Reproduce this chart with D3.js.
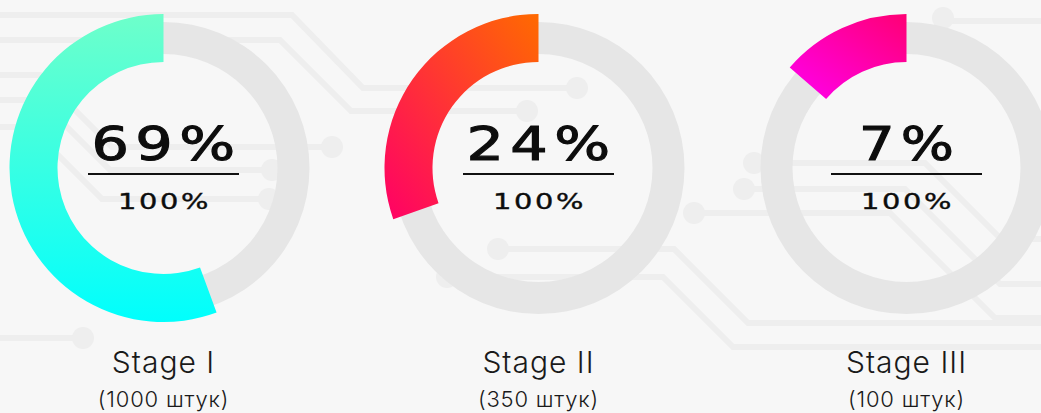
<!DOCTYPE html>
<html lang="ru">
<head>
    <meta charset="UTF-8">
    <title>Stages</title>
    <script src="https://d3js.org/d3.v7.min.js"></script>
    <style>
        html, body {
            margin: 0;
            padding: 0;
            background: #f7f7f7;
            overflow: hidden;
        }
        .big-value {
            font-family: "DejaVu Sans", sans-serif;
            font-size: 46px;
            letter-spacing: 5px;
            fill: #0d0d0d;
            stroke: #0d0d0d;
            stroke-width: 1.1px;
        }
        .total-value {
            font-family: "DejaVu Sans", sans-serif;
            font-size: 22px;
            letter-spacing: 2px;
            fill: #0d0d0d;
            stroke: #0d0d0d;
            stroke-width: 0.4px;
        }
        .stage-name {
            font-family: Inter, "Open Sans", sans-serif;
            font-weight: 300;
            font-size: 30px;
            letter-spacing: 1px;
            fill: #1a1a1a;
        }
        .stage-count {
            font-family: Inter, "Open Sans", sans-serif;
            font-weight: 300;
            font-size: 22px;
            letter-spacing: 0.8px;
            fill: #1a1a1a;
        }
    </style>
</head>
<body>
<div id="chart"></div>
<script>
    // chart data
    const stages = ["Stage I", "Stage II", "Stage III"];
    const counts = [1000, 350, 100];
    const shares = [69, 24, 7];
    const arcFractions = [0.556, 0.304, 0.137];   // filled part of each ring
    const totalLabel = "100%";

    // colours: [start, end] of each ring's gradient
    const palette = [
        ["#6effca", "#00fffd"],
        ["#ff6a00", "#ff0066"],
        ["#ff0074", "#ff00ee"]
    ];

    const width = 1041, height = 413;

    const svg = d3.select("#chart")
        .append("svg")
        .attr("width", width)
        .attr("height", height);

    svg.append("rect")
        .attr("width", width)
        .attr("height", height)
        .attr("fill", "#f7f7f7");

    // faint circuit board decoration behind the rings
    const traces = [
        {pts: [[0, 15], [292, 15], [363, 88], [577, 88]], dot: [577, 88]},
        {pts: [[0, 40], [280, 40], [351, 111], [527, 111]], dot: [527, 111]},
        {pts: [[0, 75], [40, 75], [112, 147], [332, 147]], dot: [332, 147]},
        {pts: [[0, 100], [40, 100], [110, 170], [272, 170]], dot: [272, 170]},
        {pts: [[0, 127], [30, 127], [102, 199], [269, 199]], dot: [269, 199]},
        {pts: [[0, 338], [83, 338]], dot: [83, 338]},
        {pts: [[498, 249], [674, 249], [748, 323], [1041, 323]], dot: [498, 249]},
        {pts: [[447, 277], [663, 277], [733, 347], [1041, 347]], dot: [447, 277]},
        {pts: [[943, 21], [1041, 21]], dot: [943, 18]},
        {pts: [[754, 163], [925, 163], [1001, 239], [1041, 239]], dot: [754, 163]},
        {pts: [[744, 189], [905, 189], [1000, 284], [1041, 284]], dot: [744, 189]},
        {pts: [[694, 213], [890, 213], [995, 318], [1041, 318]], dot: [694, 213]}
    ];

    const deco = svg.append("g").attr("class", "circuit");
    deco.selectAll("path")
        .data(traces)
        .enter()
        .append("path")
        .attr("d", d => d3.line()(d.pts))
        .attr("fill", "none")
        .attr("stroke", "#eeeeee")
        .attr("stroke-width", 6);
    deco.selectAll("circle")
        .data(traces)
        .enter()
        .append("circle")
        .attr("cx", d => d.dot[0])
        .attr("cy", d => d.dot[1])
        .attr("r", 11)
        .attr("fill", "#eeeeee");

    // layout
    const cx = d3.scaleOrdinal().domain(stages).range([163.5, 538.5, 906.5]);
    const cy = 168;
    const angle = d3.scaleLinear().domain([0, 1]).range([0, -2 * Math.PI]);

    const trackArc = d3.arc().innerRadius(114).outerRadius(146).startAngle(0).endAngle(2 * Math.PI);
    const valueArc = d3.arc().innerRadius(106).outerRadius(154).startAngle(0);

    const defs = svg.append("defs");
    const gradDirs = [
        {x1: 0, y1: 0, x2: 0, y2: 1},
        {x1: 1, y1: 0, x2: 0, y2: 1},
        {x1: 1, y1: 0, x2: 0, y2: 1}
    ];
    stages.forEach((s, i) => {
        const g = defs.append("linearGradient")
            .attr("id", "grad" + i)
            .attr("x1", gradDirs[i].x1).attr("y1", gradDirs[i].y1)
            .attr("x2", gradDirs[i].x2).attr("y2", gradDirs[i].y2);
        g.append("stop").attr("offset", "0%").attr("stop-color", palette[i][0]);
        g.append("stop").attr("offset", "100%").attr("stop-color", palette[i][1]);
    });

    const rows = stages.map((s, i) => ({
        stage: s, count: counts[i], share: shares[i], frac: arcFractions[i], idx: i
    }));

    const ring = svg.selectAll(".ring")
        .data(rows)
        .enter()
        .append("g")
        .attr("class", "ring")
        .attr("transform", d => `translate(${cx(d.stage)},${cy})`);

    ring.append("path")
        .attr("d", trackArc())
        .attr("fill", "#e6e6e6");

    ring.append("path")
        .attr("d", d => valueArc({endAngle: angle(d.frac)}))
        .attr("fill", d => `url(#grad${d.idx})`);

    // centre text (trailing letter-spacing is added to the length and offset)
    ring.append("text")
        .attr("class", "big-value")
        .attr("text-anchor", "middle")
        .attr("x", 3)
        .attr("y", -8)
        .attr("textLength", d => String(d.share).length * 49 + 47 + 5)
        .attr("lengthAdjust", "spacingAndGlyphs")
        .text(d => d.share + "%");

    ring.append("line")
        .attr("x1", -75.5)
        .attr("x2", 75.5)
        .attr("y1", 6)
        .attr("y2", 6)
        .attr("stroke", "#111")
        .attr("stroke-width", 2.2);

    ring.append("text")
        .attr("class", "total-value")
        .attr("text-anchor", "middle")
        .attr("x", 1)
        .attr("y", 41)
        .attr("textLength", 93)
        .attr("lengthAdjust", "spacingAndGlyphs")
        .text(totalLabel);

    // labels below
    ring.append("text")
        .attr("class", "stage-name")
        .attr("text-anchor", "middle")
        .attr("y", 205)
        .text(d => d.stage);

    ring.append("text")
        .attr("class", "stage-count")
        .attr("text-anchor", "middle")
        .attr("y", 239)
        .text(d => `(${d.count} штук)`);
</script>
</body>
</html>
